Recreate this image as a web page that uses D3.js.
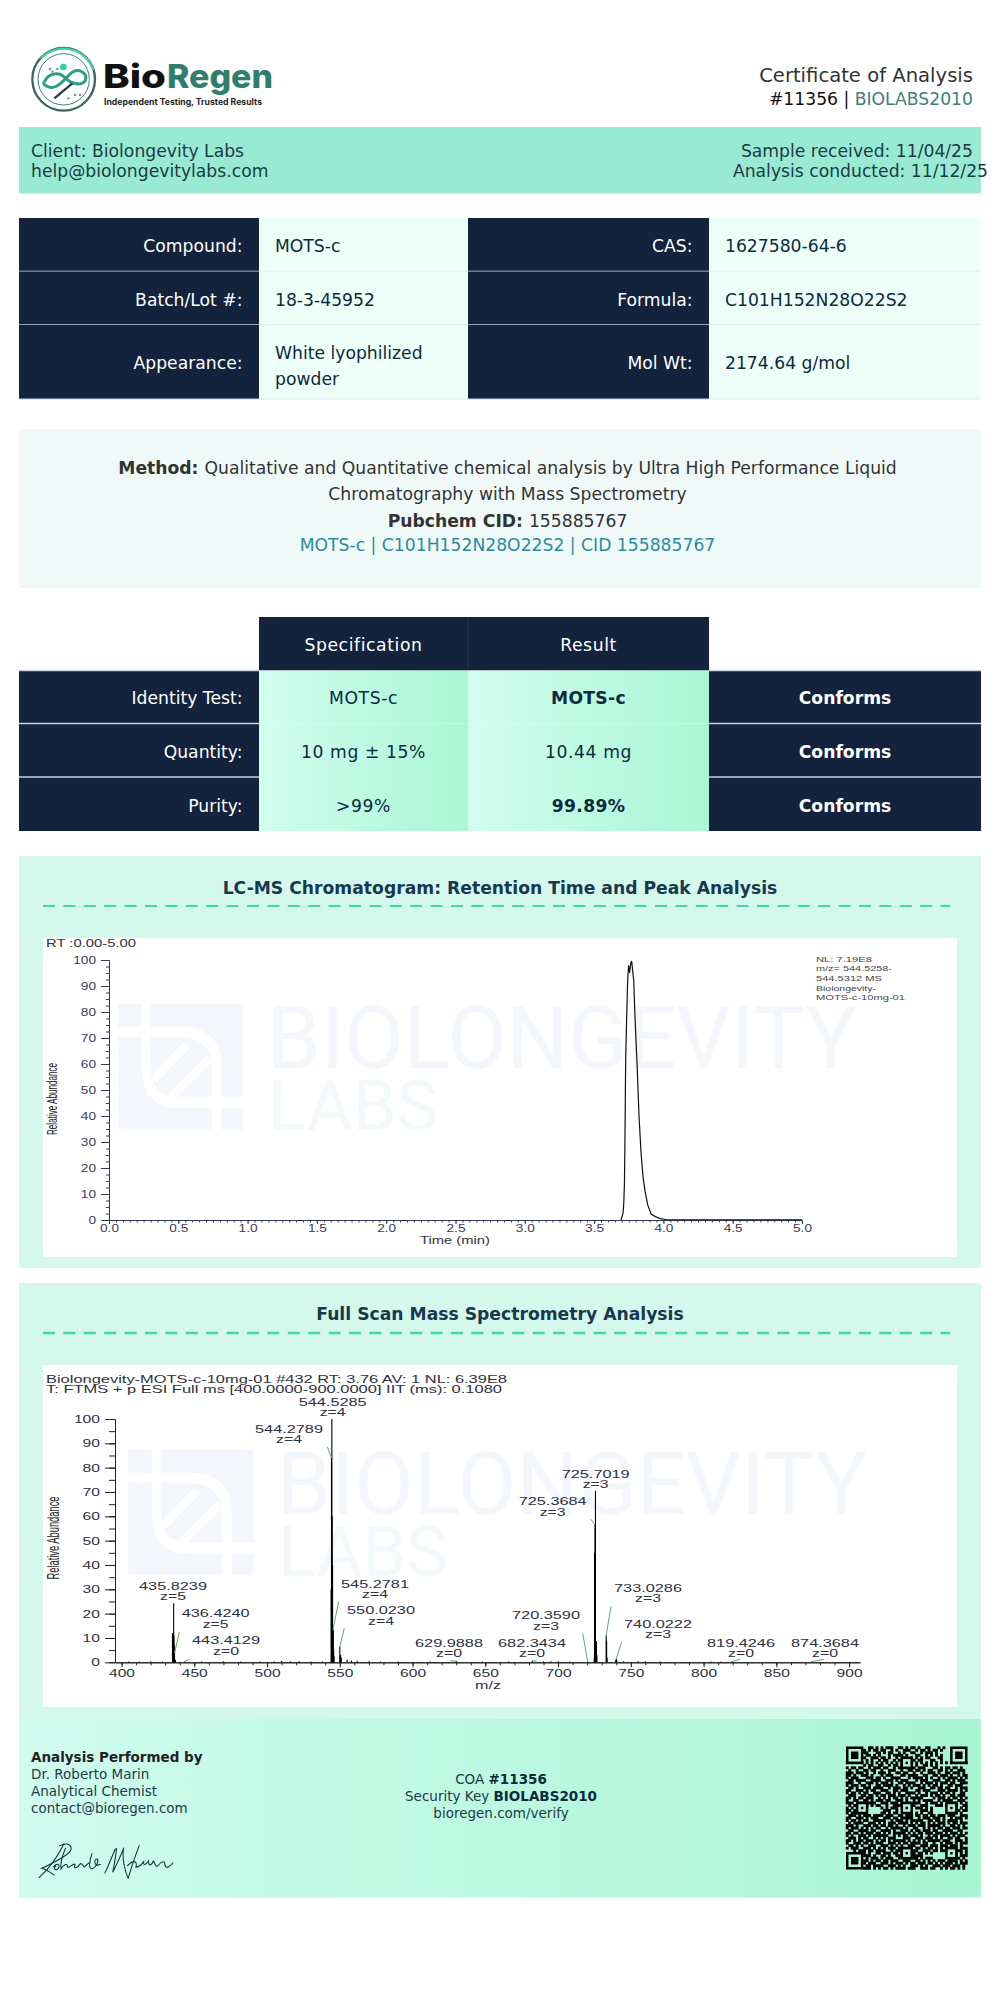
<!DOCTYPE html>
<html>
<head>
<meta charset="utf-8">
<script src="https://cdn.jsdelivr.net/npm/d3@7"></script>
<style>
  body { margin: 0; background: #fff; }
  svg { display: block; }
  text { font-family: "DejaVu Sans", sans-serif; }
  .plot text { font-family: "Liberation Sans", sans-serif; }
</style>
</head>
<body>
<div id="page"></div>
<script>
// document text
const infoLabelsLeft = ["Compound:", "Batch/Lot #:", "Appearance:"];
const infoValuesLeft = [["MOTS-c"], ["18-3-45952"], ["White lyophilized", "powder"]];
const infoLabelsRight = ["CAS:", "Formula:", "Mol Wt:"];
const infoValuesRight = ["1627580-64-6", "C101H152N28O22S2", "2174.64 g/mol"];

const testHeaders = ["Specification", "Result"];
const testNames = ["Identity Test:", "Quantity:", "Purity:"];
const testSpecs = ["MOTS-c", "10 mg ± 15%", ">99%"];
const testResults = ["MOTS-c", "10.44 mg", "99.89%"];
const testResultBold = [true, false, true];
const testVerdicts = ["Conforms", "Conforms", "Conforms"];

// chromatogram
const chromTime = [3.694, 3.709, 3.714, 3.719, 3.723, 3.728, 3.735, 3.742, 3.749, 3.756, 3.764, 3.771, 3.778, 3.786, 3.795, 3.810, 3.824, 3.839, 3.853, 3.868, 3.887, 3.911, 3.942, 3.978, 4.026, 5.0];
const chromAbundance = [0, 2.6, 6.4, 14, 33, 62.6, 78, 92, 98, 95, 98.7, 99.6, 96, 92, 78, 60, 40, 25.6, 16.7, 11, 5.8, 2.3, 1.3, 0.5, 0.1, 0.1];
const chromNote = ["NL: 7.19E8", "m/z= 544.5258-", "544.5312 MS", "Biolongevity-", "MOTS-c-10mg-01"];
const chromNoteWidths = [56, 76, 66, 60, 89];

// spectrum sticks
const specMz = [405, 412, 420, 428, 435.0, 435.62, 435.82, 436.02, 436.22, 436.42, 437, 443.41, 455, 470, 482, 495, 505, 510, 516, 522, 530, 538, 544.03, 544.28, 544.53, 544.78, 545.03, 545.28, 545.53, 545.78, 546.03, 550.02, 550.27, 550.52, 551, 555, 558, 562, 570, 578, 590, 612, 630, 648, 666, 682.34, 690, 695, 700, 708, 720.36, 724.9, 725.04, 725.37, 725.7, 726.04, 726.37, 726.7, 733.03, 733.36, 733.7, 739.6, 740.02, 740.35, 745, 755, 760, 770, 805, 812, 819.42, 874.37];
const specIntensity = [0.3, 0.3, 0.4, 0.3, 12, 12, 24.3, 11, 7, 3.7, 1, 0.3, 0.3, 0.4, 0.3, 0.3, 0.3, 0.5, 0.4, 0.4, 0.3, 0.3, 30, 84, 100, 60, 40, 13.5, 13, 5, 2.5, 6.4, 3, 3, 2, 1, 0.7, 0.6, 0.4, 0.3, 0.3, 0.3, 0.5, 0.3, 0.3, 0.6, 0.4, 0.4, 0.4, 0.3, 0.3, 2, 45, 56.4, 70.5, 8.8, 8.8, 3, 11, 9, 2, 0.8, 1.6, 0.8, 0.4, 0.4, 0.4, 0.3, 0.3, 0.3, 0.3, 0.3];

const peakLabels = ["435.8239", "436.4240", "443.4129", "544.2789", "544.5285", "545.2781", "550.0230", "629.9888", "682.3434", "720.3590", "725.3684", "725.7019", "733.0286", "740.0222", "819.4246", "874.3684"];
const peakCharges = ["z=5", "z=5", "z=0", "z=4", "z=4", "z=4", "z=4", "z=0", "z=0", "z=3", "z=3", "z=3", "z=3", "z=3", "z=0", "z=0"];
const peakHeights = [24.3, 3.7, 0.3, 84, 100, 13.5, 6.4, 0.5, 0.6, 0.3, 56.4, 70.5, 11, 1.6, 0.3, 0.3];

// QR modules, finder and alignment squares are drawn on top
const qrRows = [
  "....... ..##.#. #.###.. ##.#.## .#..##. ..#.#.. .......",
  "....... #.#.##. ##..#.# ..###.. #.##.#. ##.#... .......",
  "....... ##...## .#.##.. #.#..## ..#.### .#..... .......",
  "....... .##.#.# ...#.## ##.#... ##..#.# .#.#... .......",
  "....... #..###. ##.#..# ..##.#. #.#.##. ..##... .......",
  "....... .#.#..# .##..#. ##..#.# .##...# #..#... .......",
  "#.#.#.# .#.#.#. #.#.#.# .#.#.#. #.#.#.# .#.#.#. #.#.#.#",
  "....... #.##..# #..#.## .#.##.. #..##.# .#..... .......",
  "#.##.## ..#.### .##..#. ##.#..# .###... ##.#.## .##.#..",
  ".#..#.. ##.##.. #..###. .#..##. ##.#.## ..##.#. #..###.",
  "###.### .#..#.# ##.#..# #.##..# ..#..## #.#..## .###.#.",
  "##.#..# ##.#... #.###.. .##.### #..##.. ##.###. #..#.##",
  "#.###.. .###.## .#..### #...#.# ###.#.# ..#.#.# ###.#.#",
  ".##.### #..#### ..###.# .###... #.###.. ###..## .#.###.",
  "###..#. .###.#. ###.#.. ##.#### ..#.### .#.###. ##..###",
  "#.###.# #.#..## .####.# ..#.#.# ##.#.#. ##.#..# #.###..",
  ".##.#.. ###.### #..#.## #.##.#. .###..# #.##.## ..#.###",
  "##..### .#.##.. ###..## .###... ##.###. ..###.# ###.#.#",
  "#.##.#. ##..### ..##.#. #..#### .#..#.# ##.#.## .#..##.",
  ".###..# #.##.#. ##.###. ###.#.. #.###.# .##.#.. ##.###.",
  "##.#.## .###..# .#.#.## .#.#.## ###.... #.###.# .##.#.#",
  "#..##.. ##.#.## #.##..# ##.#..# .#.#### ..#.### #..###.",
  "###..## ..###.. ###.### .#.##.# ##..#.# ##.#..# ###.#.#",
  ".#.###. ##.#.## ..#..## #..#.## ..###.. .###.#. .##..##",
  "#.#.#.# ....... #.#.### ....... ###.#.# ....... #.#.#.#",
  "##.##.. ....... .###..# ....... ..###.# ....... ##.#.##",
  "#.###.# ....... ##.#.## ....... #.#..## ....... .##.#..",
  ".###.#. ###.### #.###.. ##.###. ##.##.# #.###.# ##..###",
  "##..### .#.###. .###.## .#####. .#.###. ###.#.. #.###.#",
  "#.##.#. ##..### ##..#.# ##.#.## ###..## .##.#.# ###.#..",
  ".#.#### ..###.# .#.###. ####.#. #.##.#. #.###.# .##.###",
  "###.#.. ###.##. ##.##.# ..#.### .###.## ###.#.. ##.#.#.",
  "#.###.# .#.#.## ..#.### ##.#..# #..#.#. #.##.## .###.##",
  ".##..## ##.##.. ####.#. .###.#. ##.###. ##..### #..##..",
  "##.##.# .###.## .#.#.## ###.#.# .##.### .###.#. ###.#.#",
  "#.#..## #.#.### ###..#. #.##.## #.#..#. ##.#### .#.###.",
  ".###.#. ##..#.# .#.###. ..###.. ###.### .#.#..# #.##..#",
  "##.#.## .###.#. ##.#.## ###.#.# .#.#.## ###.### ..###.#",
  "#..###. ##.#.## #..###. #.##.## ##.##.. #..#.## #.#.###",
  ".##.#.# ..###.. ###.#.# .#..### ..###.# ##.###. ###.#..",
  "#.###.. ###.#.# .#.###. ###.#.. ##.#.## .#.#.## .##.###",
  "...#.## #.##.## ##..#.# #.###.# #..###. ##.##.. #.###.#",
  "....... #.#..## .###.## .#.#### .##.#.# ....... ###.#.#",
  "....... ###.#.. ##.#..# ##..#.# ###.... ....... #.#.###",
  "....... .#.###. #.###.. #.##.## #.#.### ....... ..##.#.",
  "....... ##.#.## .##.### ..###.. ##.#.#. #.###.# ###.#.#",
  "....... #.###.. ###.#.# ##.#.## .###.## .#.#.## #.#.###",
  "....... .##.### #..###. #.#..## #.#.#.. ###.### .###.#.",
  "....... ###.#.# .##.#.# ###.### ..###.# #..#.#. ##.#.#."
];
const qrFinders = [[0, 0], [42, 0], [0, 42]];
const qrAligns = [[24, 6], [6, 24], [24, 24], [42, 24], [24, 42], [42, 42]];

// layout
const W = 1000, H = 2000;
const pageL = 19, pageR = 981;
const colA = 259, colB = 468, colC = 709;
const navy = "#13223d", ink = "#0c2a3c", chartInk = "#2f2f3f";
const infoRows = [218, 271.5, 325, 399];
const testRows = [670.5, 723.5, 777, 831];
const bodySize = 17.2, footSize = 13.5;
// text sits a little under the row centre in the reference
const infoNudge = [1.3, 1.8, 1];
const testNudge = [1, 2, 2];

const svg = d3.select("#page").append("svg").attr("width", W).attr("height", H);
const defs = svg.append("defs");
const cellGrad = defs.append("linearGradient").attr("id", "cellGrad");
cellGrad.append("stop").attr("offset", "0").attr("stop-color", "#d2fdf0");
cellGrad.append("stop").attr("offset", "1").attr("stop-color", "#a9f6d5");
const footGrad = defs.append("linearGradient").attr("id", "footGrad");
footGrad.append("stop").attr("offset", "0").attr("stop-color", "#d0fcef");
footGrad.append("stop").attr("offset", "1").attr("stop-color", "#a8f4d4");

function box(parent, x, y, w, h, fill) {
    return parent.append("rect").attr("x", x).attr("y", y).attr("width", w).attr("height", h).attr("fill", fill);
}

// parts: [text, bold, colour]
function rich(parent, x, y, parts, anchor, size, colour) {
    const t = parent.append("text")
        .attr("x", x).attr("y", y)
        .attr("text-anchor", anchor)
        .attr("dominant-baseline", "central")
        .attr("font-size", size)
        .attr("fill", colour);
    parts.forEach(p => {
        t.append("tspan")
            .attr("font-weight", p[1] ? "bold" : "normal")
            .attr("fill", p[2] || colour)
            .text(p[0]);
    });
    return t;
}

function label(parent, x, y, str, anchor, size, colour, bold) {
    return rich(parent, x, y, [[str, bold]], anchor, size, colour);
}

// the chart screenshots have stretched Arial, so every string is pinned to its width
function wide(parent, x, y, str, len, size, anchor, colour) {
    return parent.append("text")
        .attr("x", x).attr("y", y)
        .attr("text-anchor", anchor)
        .attr("dominant-baseline", "central")
        .attr("font-size", size)
        .attr("fill", colour)
        .attr("textLength", len)
        .attr("lengthAdjust", "spacingAndGlyphs")
        .text(str);
}

// ---- logo
const logo = svg.append("g").attr("transform", "translate(25,45) scale(0.3333)");
logo.append("circle").attr("cx", 116).attr("cy", 103).attr("r", 94).attr("fill", "none").attr("stroke", "#3e6660").attr("stroke-width", 7);
logo.append("path").attr("d", "M48,40 A94,94 0 0 1 205,75").attr("fill", "none").attr("stroke", "#45cfa8").attr("stroke-width", 7);
logo.append("circle").attr("cx", 116).attr("cy", 103).attr("r", 77).attr("fill", "none").attr("stroke", "#3c7f72").attr("stroke-width", 3);
logo.append("path").attr("d", "M58,112 C68,85 100,78 120,98 C140,118 170,125 182,105 C187,83 160,68 140,83 C120,100 100,132 75,127 C58,122 53,115 58,112")
    .attr("fill", "none").attr("stroke", "#2a9f84").attr("stroke-width", 9);
logo.append("path").attr("d", "M88,160 L142,115").attr("stroke", "#2b3f45").attr("stroke-width", 7);
logo.append("circle").attr("cx", 115).attr("cy", 66).attr("r", 10).attr("fill", "#2fd3a0");
[[82, 80], [97, 72], [150, 150], [165, 150], [130, 160], [75, 72]].forEach(d => {
    logo.append("circle").attr("cx", d[0]).attr("cy", d[1]).attr("r", 3.5).attr("fill", "#6f8f88");
});
svg.append("text").attr("x", 103).attr("y", 88).attr("font-size", 33).attr("font-weight", 800)
    .style("font-family", "Inter, 'Open Sans'").attr("fill", "#111")
    .attr("textLength", 63).attr("lengthAdjust", "spacingAndGlyphs").text("Bio");
svg.append("text").attr("x", 167).attr("y", 88).attr("font-size", 33).attr("font-weight", 800)
    .style("font-family", "Inter, 'Open Sans'").attr("fill", "#2f7f6c")
    .attr("textLength", 106).attr("lengthAdjust", "spacingAndGlyphs").text("Regen");
svg.append("text").attr("x", 104).attr("y", 105).attr("font-size", 8.5).attr("font-weight", 700)
    .style("font-family", "Inter, 'Open Sans'").attr("fill", "#222")
    .attr("textLength", 158).attr("lengthAdjust", "spacingAndGlyphs").text("Independent Testing, Trusted Results");

// ---- header
label(svg, 973, 75, "Certificate of Analysis", "end", 19.6, "#333");
rich(svg, 973, 99, [["#11356", false, "#111"], [" | ", false, "#111"], ["BIOLABS2010", false, "#3c7f78"]], "end", bodySize, "#111");

box(svg, pageL, 127, pageR - pageL, 66, "#98ead3");
svg.append("line").attr("x1", pageL).attr("x2", pageR).attr("y1", 193.5).attr("y2", 193.5).attr("stroke", "#d6f3ea");
label(svg, 31, 151, "Client: Biolongevity Labs", "start", bodySize, "#1d3b45");
label(svg, 31, 171, "help@biolongevitylabs.com", "start", bodySize, "#1d3b45");
label(svg, 973, 151, "Sample received: 11/04/25", "end", bodySize, "#1d3b45");
label(svg, 988, 171, "Analysis conducted: 11/12/25", "end", bodySize, "#1d3b45");

// ---- info table
const rowMid = (rows, i) => (rows[i] + rows[i + 1]) / 2;
infoLabelsLeft.forEach((name, i) => {
    const y0 = infoRows[i], y1 = infoRows[i + 1];
    box(svg, pageL, y0, colA - pageL, y1 - y0, navy);
    box(svg, colA, y0, colB - colA, y1 - y0, "#eefff9");
    box(svg, colB, y0, colC - colB, y1 - y0, navy);
    box(svg, colC, y0, pageR - colC, y1 - y0, "#eefff9");
    [[pageL, colA, "#c5d2e6"], [colA, colB, "#dcebe6"], [colB, colC, "#c5d2e6"], [colC, pageR, "#dcebe6"]].forEach(d => {
        svg.append("line").attr("x1", d[0]).attr("x2", d[1]).attr("y1", y1).attr("y2", y1).attr("stroke", d[2]).attr("stroke-width", i < 2 ? 1.5 : 1);
    });
    const mid = rowMid(infoRows, i) + infoNudge[i];
    label(svg, 242.5, mid, name, "end", bodySize, "#fff");
    label(svg, 692.5, mid, infoLabelsRight[i], "end", bodySize, "#fff");
    label(svg, 725, mid, infoValuesRight[i], "start", bodySize, ink);
    const lines = infoValuesLeft[i];
    lines.forEach((line, k) => {
        const y = lines.length > 1 ? mid + 3 + (k - 0.5) * 26 : mid;
        label(svg, 275, y, line, "start", bodySize, ink);
    });
});

// ---- method box
box(svg, pageL, 429, pageR - pageL, 158, "#effaf8");
svg.append("line").attr("x1", pageL).attr("x2", pageR).attr("y1", 587).attr("y2", 587).attr("stroke", "#e3efec");
rich(svg, 507.5, 468, [["Method: ", true], ["Qualitative and Quantitative chemical analysis by Ultra High Performance Liquid"]], "middle", bodySize, "#333");
label(svg, 507.5, 494, "Chromatography with Mass Spectrometry", "middle", bodySize, "#333");
rich(svg, 507.5, 520.5, [["Pubchem CID: ", true], ["155885767"]], "middle", bodySize, "#333");
label(svg, 507.5, 545, "MOTS-c | C101H152N28O22S2 | CID 155885767", "middle", bodySize, "#2b8a9e");

// ---- test table
box(svg, colA, 617, colC - colA, 53.5, navy);
svg.append("line").attr("x1", colB).attr("x2", colB).attr("y1", 617).attr("y2", 670).attr("stroke", "#2a3a56");
testHeaders.forEach((h, i) => {
    label(svg, i ? (colB + colC) / 2 : (colA + colB) / 2, 644.5, h, "middle", bodySize, "#fff").attr("letter-spacing", 0.6);
});
testNames.forEach((name, i) => {
    const y0 = testRows[i], y1 = testRows[i + 1], mid = rowMid(testRows, i) + testNudge[i];
    box(svg, pageL, y0, colA - pageL, y1 - y0, navy);
    box(svg, colA, y0, colB - colA, y1 - y0, "url(#cellGrad)");
    box(svg, colB, y0, colC - colB, y1 - y0, "url(#cellGrad)");
    box(svg, colC, y0, pageR - colC, y1 - y0, navy);
    [[pageL, colA], [colC, pageR]].forEach(d => {
        svg.append("line").attr("x1", d[0]).attr("x2", d[1]).attr("y1", y0).attr("y2", y0).attr("stroke", "#c5d2e6").attr("stroke-width", 1.5);
    });
    label(svg, 242.5, mid, name, "end", bodySize, "#fff");
    label(svg, (colA + colB) / 2, mid, testSpecs[i], "middle", bodySize, ink).attr("letter-spacing", 0.6);
    label(svg, (colB + colC) / 2, mid, testResults[i], "middle", bodySize, ink, testResultBold[i]).attr("letter-spacing", testResultBold[i] ? 0.3 : 0.6);
    label(svg, (colC + pageR) / 2, mid, testVerdicts[i], "middle", bodySize, "#fff", true);
});

// ---- chart panels
function panel(y0, y1, titleText, titleY, dashY, dashW, imgY0, imgY1) {
    box(svg, pageL, y0, pageR - pageL, y1 - y0, "#d5f8ec");
    label(svg, 500, titleY, titleText, "middle", bodySize, "#17384f", true);
    svg.append("line").attr("x1", 43).attr("x2", 950).attr("y1", dashY).attr("y2", dashY)
        .attr("stroke", "#3fd8ae").attr("stroke-width", dashW).attr("stroke-dasharray", "12,8.4");
    box(svg, 43, imgY0, 914, imgY1 - imgY0, "#fff");
}

// pale company mark behind both plots
function watermark(dx, dy) {
    const g = svg.append("g").attr("transform", `translate(${dx},${dy})`);
    const m = g.append("g").attr("transform", "translate(20,850) scale(0.3333)").attr("fill", "#f3f6fa");
    m.append("path").attr("d", "M295,462 H365 V530 H295 Z");
    m.append("path").attr("d", "M392,462 H670 V740 H605 V650 Q605,530 480,530 H392 Z");
    m.append("path").attr("d", "M295,560 H365 V650 Q365,775 480,775 H575 V838 H295 Z");
    m.append("path").attr("d", "M605,775 H670 V838 H605 Z");
    m.append("path").attr("d", "M392,560 H470 Q575,560 575,650 V740 H480 Q392,740 392,650 Z");
    m.append("path").attr("d", "M400,690 L500,585 M455,740 L570,625").attr("stroke", "#fff").attr("stroke-width", 26);
    g.append("text").attr("x", 267).attr("y", 1068).attr("font-size", 88).style("font-family", "Roboto")
        .attr("fill", "#f3f6fa").attr("textLength", 590).attr("lengthAdjust", "spacingAndGlyphs").text("BIOLONGEVITY");
    g.append("text").attr("x", 268).attr("y", 1130).attr("font-size", 70).style("font-family", "Roboto")
        .attr("fill", "#f3f9fb").attr("textLength", 170).attr("lengthAdjust", "spacingAndGlyphs").text("LABS");
}

panel(856, 1268, "LC-MS Chromatogram: Retention Time and Peak Analysis", 888, 906, 2, 938, 1257);
watermark(0, 0);
panel(1283, 1719, "Full Scan Mass Spectrometry Analysis", 1314, 1333, 2.5, 1365, 1707);
watermark(10, 446);

// ---- chromatogram
const chrom = svg.append("g").attr("class", "plot");
const tx = d3.scaleLinear().domain([0, 5]).range([109, 802]);
const ty = d3.scaleLinear().domain([0, 100]).range([1220, 960]);

chrom.append("g").attr("transform", "translate(109,0)")
    .call(d3.axisLeft(ty).tickValues(d3.range(0, 101, 2.5)).tickSize(3).tickFormat("").tickSizeOuter(0))
    .call(g => g.selectAll("path,line").attr("stroke", "#333a55"));
chrom.append("g").attr("transform", "translate(109,0)")
    .call(d3.axisLeft(ty).tickValues(d3.range(0, 101, 10)).tickSize(8).tickSizeOuter(0))
    .call(g => g.selectAll("path,line").attr("stroke", "#333a55"))
    .call(g => g.selectAll("text").attr("x", -13).attr("font-size", 10.5).attr("fill", "#3d3a55")
        .attr("textLength", d => String(d).length * 7.6).attr("lengthAdjust", "spacingAndGlyphs"));
chrom.append("g").attr("transform", "translate(0,1220)")
    .call(d3.axisBottom(tx).tickValues(d3.range(0, 5.01, 0.05)).tickSize(2.5).tickFormat("").tickSizeOuter(0))
    .call(g => g.selectAll("path,line").attr("stroke", "#333a55"));
chrom.append("g").attr("transform", "translate(0,1220)")
    .call(d3.axisBottom(tx).tickValues(d3.range(0, 5.01, 0.5)).tickSize(4).tickFormat(d3.format(".1f")).tickSizeOuter(0))
    .call(g => g.selectAll("path,line").attr("stroke", "#333a55"))
    .call(g => g.selectAll("text").attr("y", 5).attr("dy", "0.71em").attr("font-size", 10.5).attr("fill", "#3d3a55")
        .attr("textLength", 19).attr("lengthAdjust", "spacingAndGlyphs"));

const chromLine = d3.line().x((d, i) => tx(chromTime[i])).y(d => ty(d));
chrom.append("path").datum(chromAbundance)
    .attr("d", chromLine)
    .attr("fill", "none").attr("stroke", "#111").attr("stroke-width", 1.2);

wide(chrom, 46, 943, "RT :0.00-5.00", 90, 10.5, "start", "#333");
wide(chrom, 455, 1240, "Time (min)", 70, 10, "middle", "#333");
wide(chrom, 0, 0, "Relative Abundance", 72, 15, "middle", "#222").attr("transform", "translate(51,1099) rotate(-90)");
chromNote.forEach((line, i) => {
    wide(chrom, 816, 959 + i * 9.7, line, chromNoteWidths[i], 8, "start", "#444");
});

// ---- spectrum
const spec = svg.append("g").attr("class", "plot");
const mx = d3.scaleLinear().domain([395.5, 907.5]).range([115, 860]);
const my = d3.scaleLinear().domain([0, 100]).range([1662.3, 1419]);

spec.append("g").attr("transform", "translate(115,0)")
    .call(d3.axisLeft(my).tickValues(d3.range(0, 101, 5)).tickSize(6).tickFormat("").tickSizeOuter(0))
    .call(g => g.selectAll("path,line").attr("stroke", "#222"));
spec.append("g").attr("transform", "translate(115,0)")
    .call(d3.axisLeft(my).tickValues(d3.range(0, 101, 10)).tickSize(10).tickSizeOuter(0))
    .call(g => g.selectAll("path,line").attr("stroke", "#222"))
    .call(g => g.selectAll("text").attr("x", -15).attr("font-size", 10.5).attr("fill", chartInk)
        .attr("textLength", d => String(d).length * 8.7).attr("lengthAdjust", "spacingAndGlyphs"));
spec.append("g").attr("transform", "translate(0,1662.3)")
    .call(d3.axisBottom(mx).tickValues(d3.range(400, 901, 10)).tickSize(3).tickFormat("").tickSizeOuter(0))
    .call(g => g.selectAll("path,line").attr("stroke", "#222"));
spec.append("g").attr("transform", "translate(0,1662.3)")
    .call(d3.axisBottom(mx).tickValues(d3.range(400, 901, 50)).tickSize(5).tickSizeOuter(0))
    .call(g => g.selectAll("path,line").attr("stroke", "#222"))
    .call(g => g.selectAll("text").attr("y", 7).attr("dy", "0.71em").attr("font-size", 10.5).attr("fill", chartInk)
        .attr("textLength", 26).attr("lengthAdjust", "spacingAndGlyphs"));

spec.selectAll(".stick")
    .data(specMz)
    .enter()
    .append("line")
    .attr("class", "stick")
    .attr("x1", d => mx(d)).attr("x2", d => mx(d))
    .attr("y1", my(0))
    .attr("y2", (d, i) => my(specIntensity[i]))
    .attr("stroke", "#000")
    .attr("stroke-width", 1.1);

// label centres and the far end of each green leader, by page position
const labelSpots = [[173, 1586], [215.7, 1613.7], [226, 1640.7], [289, 1429], [332.7, 1402], [375, 1584], [381, 1610.7], [449, 1643.3], [532, 1643.3], [546, 1615.7], [552.7, 1501.7], [595.7, 1474.3], [648, 1588.3], [658, 1624.3], [741, 1643.3], [825, 1643.3]];
const leaderTips = [null, [179.3, 1632], [189.3, 1659], [327.3, 1446.7], null, [338.7, 1601.7], [344.3, 1628.3], [450, 1660.7], [536.7, 1661], [582.7, 1633.3], [590.7, 1519], null, [611, 1606.3], [621.7, 1641.7], [740, 1659.3], [824, 1659.3]];

peakLabels.forEach((str, i) => {
    wide(spec, labelSpots[i][0], labelSpots[i][1], str, 68, 10, "middle", chartInk);
    wide(spec, labelSpots[i][0], labelSpots[i][1] + 10.5, peakCharges[i], 26, 10, "middle", chartInk);
    if (leaderTips[i]) {
        spec.append("line")
            .attr("x1", mx(+str)).attr("y1", my(peakHeights[i]))
            .attr("x2", leaderTips[i][0]).attr("y2", leaderTips[i][1])
            .attr("stroke", "#5fa870").attr("stroke-width", 1);
    }
});

wide(spec, 46, 1378.7, "Biolongevity-MOTS-c-10mg-01 #432 RT: 3.76 AV: 1 NL: 6.39E8", 461, 10.5, "start", chartInk);
wide(spec, 46, 1389, "T: FTMS + p ESI Full ms [400.0000-900.0000] IIT (ms): 0.1080", 456, 10.5, "start", chartInk);
wide(spec, 488, 1685, "m/z", 26, 10.5, "middle", chartInk);
wide(spec, 0, 0, "Relative Abundance", 83, 16.5, "middle", "#222").attr("transform", "translate(52.7,1538) rotate(-90)");

// ---- footer
box(svg, pageL, 1719, pageR - pageL, 178, "url(#footGrad)");
svg.append("line").attr("x1", pageL).attr("x2", pageR).attr("y1", 1897.5).attr("y2", 1897.5).attr("stroke", "#e3f5ef");
label(svg, 31, 1757, "Analysis Performed by", "start", footSize, "#222", true);
label(svg, 31, 1774, "Dr. Roberto Marin", "start", footSize, "#1d3b45");
label(svg, 31, 1791, "Analytical Chemist", "start", footSize, "#1d3b45");
label(svg, 31, 1808, "contact@bioregen.com", "start", footSize, "#1d3b45");
rich(svg, 501, 1779, [["COA "], ["#11356", true, "#0c2a3c"]], "middle", footSize, "#1d3b45");
rich(svg, 501, 1796, [["Security Key "], ["BIOLABS2010", true, "#0c2a3c"]], "middle", footSize, "#1d3b45");
label(svg, 501, 1813, "bioregen.com/verify", "middle", footSize, "#1d3b45");

// signature
svg.append("g").attr("transform", "translate(30,1835) scale(0.323,0.3333)")
    .attr("fill", "none").attr("stroke", "#0a3236").attr("stroke-width", 3.2).attr("stroke-linecap", "round")
    .selectAll("path")
    .data([
        "M105,26 C88,60 60,100 28,128",
        "M92,32 C125,18 142,40 112,60 C92,73 68,86 36,100 C50,103 60,110 74,120",
        "M72,96 C82,82 96,88 88,100 C80,108 70,102 80,92",
        "M110,40 C100,62 94,88 96,102 C102,90 116,82 116,96 C124,102 132,82 140,88 C132,102 146,102 154,88 C158,82 162,90 168,96 C174,90 180,84 184,84",
        "M192,56 C184,78 180,102 192,102 C206,96 214,78 208,72 C196,72 198,98 218,88",
        "M264,42 C252,68 242,95 232,114 M268,40 C264,70 260,95 256,112 C272,80 288,50 290,38 C284,70 294,110 304,130 M338,32 C328,58 314,95 304,130",
        "M302,92 C316,78 334,72 328,97 C338,97 348,85 352,80 C350,97 362,85 367,78 C367,97 377,90 382,78 C388,84 388,102 398,90 C408,78 418,76 418,90 C421,102 432,96 442,84"
    ])
    .enter()
    .append("path")
    .attr("d", d => d);

// QR code
const qrX = d3.scaleBand().domain(d3.range(49)).range([846, 967.5]);
const qrY = d3.scaleBand().domain(d3.range(49)).range([1746.5, 1869.5]);
const qr = svg.append("g").attr("fill", "#000");
qrRows.forEach((row, r) => {
    row.replace(/ /g, "").split("").forEach((c, k) => {
        if (c === "#") box(qr, qrX(k) - 0.2, qrY(r) - 0.2, qrX.bandwidth() + 0.4, qrY.bandwidth() + 0.4, "#000");
    });
});
function square(k, r, n, fill) {
    box(qr, qrX(k), qrY(r), qrX.bandwidth() * n, qrY.bandwidth() * n, fill);
}
qrFinders.forEach(d => {
    square(d[0], d[1], 7, "#000");
    square(d[0] + 1, d[1] + 1, 5, "#aef5d8");
    square(d[0] + 2, d[1] + 2, 3, "#000");
});
qrAligns.forEach(d => {
    square(d[0] - 2, d[1] - 2, 5, "#000");
    square(d[0] - 1, d[1] - 1, 3, "#aef5d8");
    square(d[0], d[1], 1, "#000");
});
</script>
</body>
</html>
